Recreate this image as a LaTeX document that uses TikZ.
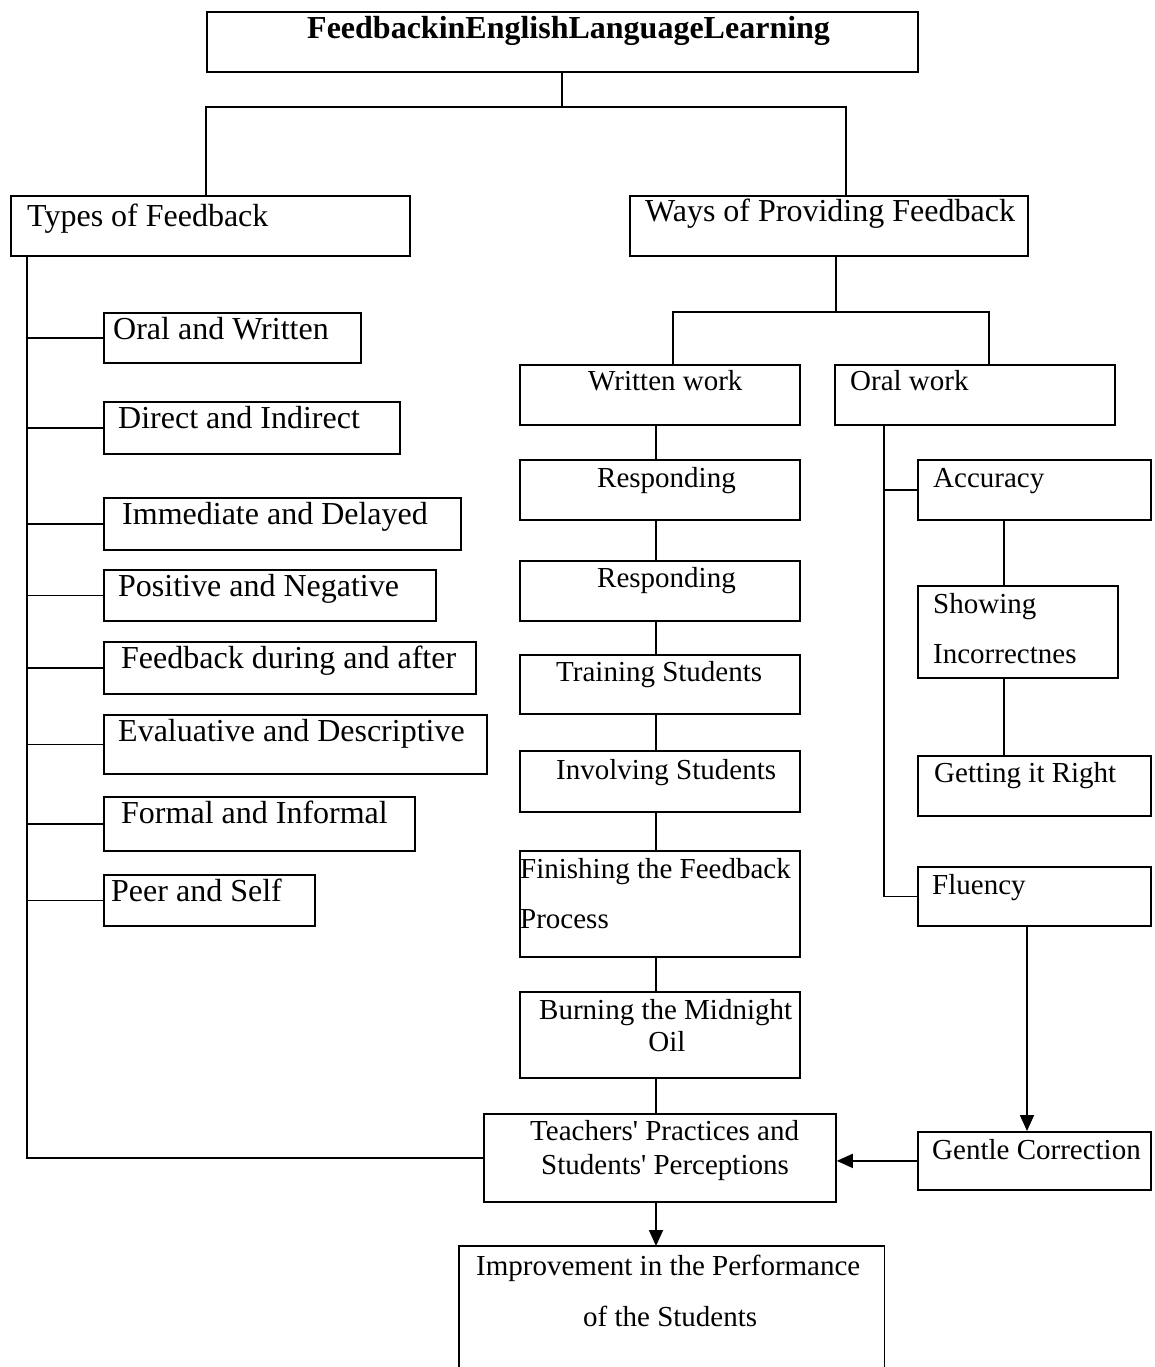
\documentclass[tikz,border=0pt]{standalone}
\usepackage{fontspec}
\setmainfont{Liberation Serif}
\usetikzlibrary{arrows.meta,calc}
\tikzset{
  bx/.style={draw, line width=1.8pt, inner sep=0pt, anchor=north west},
  big/.style={anchor=base west, inner sep=0pt, font=\fontsize{32}{38}\selectfont},
  sm/.style={anchor=base west, inner sep=0pt, font=\fontsize{29}{34}\selectfont},
  ln/.style={line width=1.8pt},
  arr/.style={line width=1.8pt, -{Triangle[length=16pt,width=14pt]}}
}
\begin{document}
\begin{tikzpicture}[x=1pt,y=-1pt]
\useasboundingbox (0,0) rectangle (1154,1367);
% title
\node[bx, minimum width=711, minimum height=60] (title) at (206,11) {};
\node[big, font=\fontsize{32}{38}\selectfont\bfseries] (titleT) at (307,39) {FeedbackinEnglishLanguageLearning};
% level 1
\node[bx, minimum width=399, minimum height=60] (types) at (10,195) {};
\node[big] (typesT) at (27,226) {Types of Feedback};
\node[bx, minimum width=398, minimum height=60] (ways) at (629,195) {};
\node[big] (waysT) at (645,221) {Ways of Providing Feedback};
% left column
\node[bx, minimum width=257, minimum height=50] (ow) at (103,312) {};
\node[big] (owT) at (113,339) {Oral and Written};
\node[bx, minimum width=296, minimum height=52] (di) at (103,401) {};
\node[big] (diT) at (118,428) {Direct and Indirect};
\node[bx, minimum width=357, minimum height=52] (id) at (103,497) {};
\node[big] (idT) at (122,524) {Immediate and Delayed};
\node[bx, minimum width=332, minimum height=51] (pn) at (103,569) {};
\node[big] (pnT) at (118,596) {Positive and Negative};
\node[bx, minimum width=372, minimum height=52] (fd) at (103,641) {};
\node[big] (fdT) at (121,668) {Feedback during and after};
\node[bx, minimum width=383, minimum height=59] (ed) at (103,714) {};
\node[big] (edT) at (118,741) {Evaluative and Descriptive};
\node[bx, minimum width=311, minimum height=54] (fi) at (103,796) {};
\node[big] (fiT) at (121,823) {Formal and Informal};
\node[bx, minimum width=211, minimum height=51] (ps) at (103,874) {};
\node[big] (psT) at (111,901) {Peer and Self};
% written column
\node[bx, minimum width=280, minimum height=60] (written) at (519,364) {};
\node[sm] (writtenT) at (588,390) {Written work};
\node[bx, minimum width=280, minimum height=60] (r1) at (519,459) {};
\node[sm] (r1T) at (597,487) {Responding};
\node[bx, minimum width=280, minimum height=60] (r2) at (519,560) {};
\node[sm] (r2T) at (597,587) {Responding};
\node[bx, minimum width=280, minimum height=59] (ts) at (519,654) {};
\node[sm] (tsT) at (556,681) {Training Students};
\node[bx, minimum width=280, minimum height=61] (is) at (519,750) {};
\node[sm] (isT) at (556,779) {Involving Students};
\node[bx, minimum width=280, minimum height=106] (fp) at (519,850) {};
\node[sm] (fpT1) at (520,878) {Finishing the Feedback};
\node[sm] (fpT2) at (520,928) {Process};
\node[bx, minimum width=280, minimum height=86] (bm) at (519,991) {};
\node[sm] (bmT1) at (539,1019) {Burning the Midnight};
\node[sm, anchor=base] (bmT2) at (667,1051) {Oil};
\node[bx, minimum width=352, minimum height=88] (tp) at (483,1113) {};
\node[sm] (tpT1) at (530,1140) {Teachers\textquotesingle{} Practices and};
\node[sm] (tpT2) at (541,1174) {Students\textquotesingle{} Perceptions};
\node[inner sep=0pt, anchor=north west, minimum width=425, minimum height=130] (imp) at (459,1246) {};
\node[sm] (impT1) at (476,1275) {Improvement in the Performance};
\node[sm] (impT2) at (583,1326) {of the Students};
% oral column
\node[bx, minimum width=280, minimum height=60] (oral) at (834,364) {};
\node[sm] (oralT) at (850,390) {Oral work};
\node[bx, minimum width=233, minimum height=60] (acc) at (917,459) {};
\node[sm] (accT) at (933,487) {Accuracy};
\node[bx, minimum width=200, minimum height=92] (sh) at (917,585) {};
\node[sm] (shT1) at (933,613) {Showing};
\node[sm] (shT2) at (933,663) {Incorrectnes};
\node[bx, minimum width=233, minimum height=60] (gr) at (917,755) {};
\node[sm] (grT) at (934,782) {Getting it Right};
\node[bx, minimum width=233, minimum height=59] (fl) at (917,866) {};
\node[sm] (flT) at (932,894) {Fluency};
\node[bx, minimum width=233, minimum height=58] (gc) at (917,1131) {};
\node[sm] (gcT) at (932,1159) {Gentle Correction};
% connectors
\coordinate (j1) at (562,107);
\coordinate (tL) at (206,107);
\coordinate (tR) at (846,107);
\draw[ln] (title.south -| j1) -- (j1);
\draw[ln] (tL |- types.north) -- (tL) -- (tR) -- (tR |- ways.north);
\coordinate (sp) at (27,0);
\draw[ln] (sp |- types.south) -- (sp |- tp.west) -- (tp.west);
\foreach \n in {ow,di,id,pn,fd,ed,fi,ps} \draw[ln] (sp |- \n.west) -- (\n.west);
\coordinate (wj) at (836,312);
\coordinate (wL) at (673,312);
\coordinate (wR) at (989,312);
\draw[ln] (wj |- ways.south) -- (wj);
\draw[ln] (wL |- written.north) -- (wL) -- (wR) -- (wR |- oral.north);
\coordinate (cx) at (656,0);
\foreach \a/\b in {written/r1, r1/r2, r2/ts, ts/is, is/fp, fp/bm, bm/tp}
  \draw[ln] (cx |- \a.south) -- (cx |- \b.north);
\draw[arr] (cx |- tp.south) -- (cx |- imp.north);
\draw[ln] (imp.south west) -- (imp.north west) -- (imp.north east) -- (imp.south east);
\coordinate (ox) at (884,0);
\draw[ln] (ox |- oral.south) -- (ox |- fl.west) -- (fl.west);
\draw[ln] (ox |- acc.west) -- (acc.west);
\coordinate (ax) at (1004,0);
\draw[ln] (ax |- acc.south) -- (ax |- sh.north);
\draw[ln] (ax |- sh.south) -- (ax |- gr.north);
\coordinate (fx) at (1027,0);
\draw[arr] (fx |- fl.south) -- (fx |- gc.north);
\draw[arr] (gc.west) -- (gc.west -| tp.east);
\end{tikzpicture}
\end{document}
